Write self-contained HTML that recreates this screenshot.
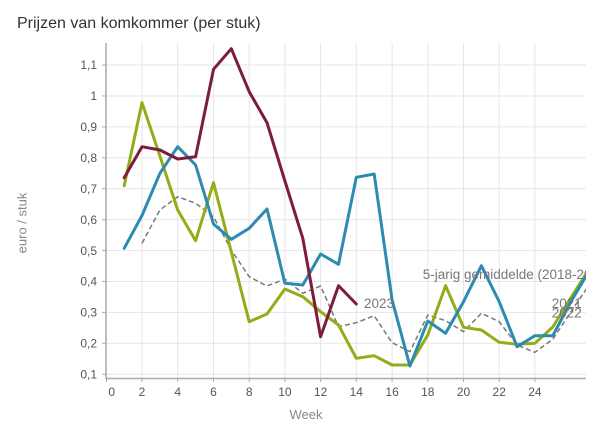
<!DOCTYPE html>
<html>
<head>
<meta charset="utf-8">
<style>
  html,body{margin:0;padding:0;background:#fff;}
  svg{display:block;font-family:"Liberation Sans",Arial,sans-serif;}
</style>
</head>
<body>
<svg width="600" height="441" viewBox="0 0 600 441" xmlns="http://www.w3.org/2000/svg">
  <defs>
    <clipPath id="plot"><rect x="106" y="40" width="480" height="340"/></clipPath>
  </defs>
  <rect width="600" height="441" fill="#fff"/>
  <text x="17" y="28" font-size="16" fill="#333">Prijzen van komkommer (per stuk)</text>

  <!-- horizontal gridlines -->
  <g stroke="#e6e6e6" stroke-width="1">
    <line x1="106" x2="586" y1="374.3" y2="374.3"/>
    <line x1="106" x2="586" y1="343.3" y2="343.3"/>
    <line x1="106" x2="586" y1="312.4" y2="312.4"/>
    <line x1="106" x2="586" y1="281.5" y2="281.5"/>
    <line x1="106" x2="586" y1="250.6" y2="250.6"/>
    <line x1="106" x2="586" y1="219.7" y2="219.7"/>
    <line x1="106" x2="586" y1="188.7" y2="188.7"/>
    <line x1="106" x2="586" y1="157.8" y2="157.8"/>
    <line x1="106" x2="586" y1="126.9" y2="126.9"/>
    <line x1="106" x2="586" y1="96" y2="96"/>
    <line x1="106" x2="586" y1="65" y2="65"/>
  </g>
  <!-- vertical gridlines -->
  <g stroke="#e6e6e6" stroke-width="1">
    <line x1="142" x2="142" y1="43" y2="378"/>
    <line x1="177.7" x2="177.7" y1="43" y2="378"/>
    <line x1="213.5" x2="213.5" y1="43" y2="378"/>
    <line x1="249.2" x2="249.2" y1="43" y2="378"/>
    <line x1="284.9" x2="284.9" y1="43" y2="378"/>
    <line x1="320.6" x2="320.6" y1="43" y2="378"/>
    <line x1="356.3" x2="356.3" y1="43" y2="378"/>
    <line x1="392.1" x2="392.1" y1="43" y2="378"/>
    <line x1="427.8" x2="427.8" y1="43" y2="378"/>
    <line x1="463.5" x2="463.5" y1="43" y2="378"/>
    <line x1="499.2" x2="499.2" y1="43" y2="378"/>
    <line x1="534.9" x2="534.9" y1="43" y2="378"/>
  </g>

  <!-- axes -->
  <g stroke="#aaa" stroke-width="1.5">
    <line x1="106" x2="106" y1="43" y2="379"/>
    <line x1="105.5" x2="586" y1="378.5" y2="378.5"/>
  </g>
  <g stroke="#aaa" stroke-width="1">
    <line x1="102" x2="106" y1="374.3" y2="374.3"/>
    <line x1="102" x2="106" y1="343.3" y2="343.3"/>
    <line x1="102" x2="106" y1="312.4" y2="312.4"/>
    <line x1="102" x2="106" y1="281.5" y2="281.5"/>
    <line x1="102" x2="106" y1="250.6" y2="250.6"/>
    <line x1="102" x2="106" y1="219.7" y2="219.7"/>
    <line x1="102" x2="106" y1="188.7" y2="188.7"/>
    <line x1="102" x2="106" y1="157.8" y2="157.8"/>
    <line x1="102" x2="106" y1="126.9" y2="126.9"/>
    <line x1="102" x2="106" y1="96" y2="96"/>
    <line x1="102" x2="106" y1="65" y2="65"/>
    <line x1="106.5" x2="106.5" y1="378" y2="382"/>
    <line x1="142" x2="142" y1="378" y2="382"/>
    <line x1="177.7" x2="177.7" y1="378" y2="382"/>
    <line x1="213.5" x2="213.5" y1="378" y2="382"/>
    <line x1="249.2" x2="249.2" y1="378" y2="382"/>
    <line x1="284.9" x2="284.9" y1="378" y2="382"/>
    <line x1="320.6" x2="320.6" y1="378" y2="382"/>
    <line x1="356.3" x2="356.3" y1="378" y2="382"/>
    <line x1="392.1" x2="392.1" y1="378" y2="382"/>
    <line x1="427.8" x2="427.8" y1="378" y2="382"/>
    <line x1="463.5" x2="463.5" y1="378" y2="382"/>
    <line x1="499.2" x2="499.2" y1="378" y2="382"/>
    <line x1="534.9" x2="534.9" y1="378" y2="382"/>
  </g>

  <!-- y labels -->
  <g font-size="12" fill="#555" text-anchor="end">
    <text x="97" y="378.5">0,1</text>
    <text x="97" y="347.5">0,2</text>
    <text x="97" y="316.6">0,3</text>
    <text x="97" y="285.7">0,4</text>
    <text x="97" y="254.8">0,5</text>
    <text x="97" y="223.9">0,6</text>
    <text x="97" y="192.9">0,7</text>
    <text x="97" y="162">0,8</text>
    <text x="97" y="131.1">0,9</text>
    <text x="97" y="100.2">1</text>
    <text x="97" y="69.2">1,1</text>
  </g>
  <!-- x labels -->
  <g font-size="12" fill="#555" text-anchor="middle">
    <text x="111.7" y="396">0</text>
    <text x="142" y="396">2</text>
    <text x="177.7" y="396">4</text>
    <text x="213.5" y="396">6</text>
    <text x="249.2" y="396">8</text>
    <text x="284.9" y="396">10</text>
    <text x="320.6" y="396">12</text>
    <text x="356.3" y="396">14</text>
    <text x="392.1" y="396">16</text>
    <text x="427.8" y="396">18</text>
    <text x="463.5" y="396">20</text>
    <text x="499.2" y="396">22</text>
    <text x="534.9" y="396">24</text>
  </g>
  <text x="306" y="419" font-size="13" fill="#888" text-anchor="middle">Week</text>
  <text transform="translate(26.5,223) rotate(-90)" font-size="13" fill="#888" text-anchor="middle">euro / stuk</text>

  <g clip-path="url(#plot)" fill="none" stroke-linejoin="round" stroke-linecap="round">
    <!-- 5-year average dashed -->
    <polyline stroke="#777" stroke-width="1.5" stroke-dasharray="5,3" stroke-linecap="butt"
      points="142,243.3 159.9,210 177.7,196.7 195.6,203.3 213.5,216.7 231.3,250 249.2,276.7 267,286 284.9,279 302.8,293.3 320.6,286 338.5,326.7 356.3,322.7 374.2,315.7 392.1,342.7 409.9,351.7 427.8,315 445.6,320.7 463.5,331.7 481.4,313.3 499.2,321.7 517.1,345 534.9,352.3 552.8,339.3 570.7,312 588.5,286"/>
    <!-- green -->
    <polyline stroke="#8fae17" stroke-width="3"
      points="124.2,185.7 142,102.7 159.9,156 177.7,210 195.6,240.7 213.5,182.7 231.3,252 249.2,321.7 267,314 284.9,289 302.8,296.7 320.6,311.7 338.5,325 356.3,358.3 374.2,355.7 392.1,365 409.9,365 427.8,335 445.6,285.7 463.5,327.3 481.4,330 499.2,342.3 517.1,344.3 534.9,343.3 552.8,327 570.7,298 588.5,270"/>
    <!-- blue -->
    <polyline stroke="#2d8bb0" stroke-width="3"
      points="124.2,248.3 142,215.5 159.9,173.3 177.7,146.7 195.6,165 213.5,224 231.3,239.3 249.2,228.3 267,209 284.9,283.3 302.8,285 320.6,254 338.5,264.3 356.3,177.3 374.2,174 392.1,300 409.9,366 427.8,321 445.6,333.3 463.5,301.7 481.4,265.7 499.2,301.7 517.1,346.7 534.9,335.7 552.8,335.7 570.7,302 588.5,272"/>
    <!-- maroon 2023 -->
    <polyline stroke="#7c1d3e" stroke-width="3"
      points="124.2,177.7 142,146.7 159.9,150 177.7,159 195.6,156.7 213.5,69.3 231.3,48.7 249.2,91.7 267,122.7 284.9,181 302.8,238.3 320.6,336.7 338.5,285.7 356.3,304"/>
    <g font-size="13.5" fill="#777" stroke="none">
      <text x="364" y="308">2023</text>
      <text x="422.7" y="279">5-jarig gemiddelde (2018-2022)</text>
      <text x="551.7" y="308">2021</text>
      <text x="551.7" y="317.4">2022</text>
    </g>
  </g>
</svg>
</body>
</html>
